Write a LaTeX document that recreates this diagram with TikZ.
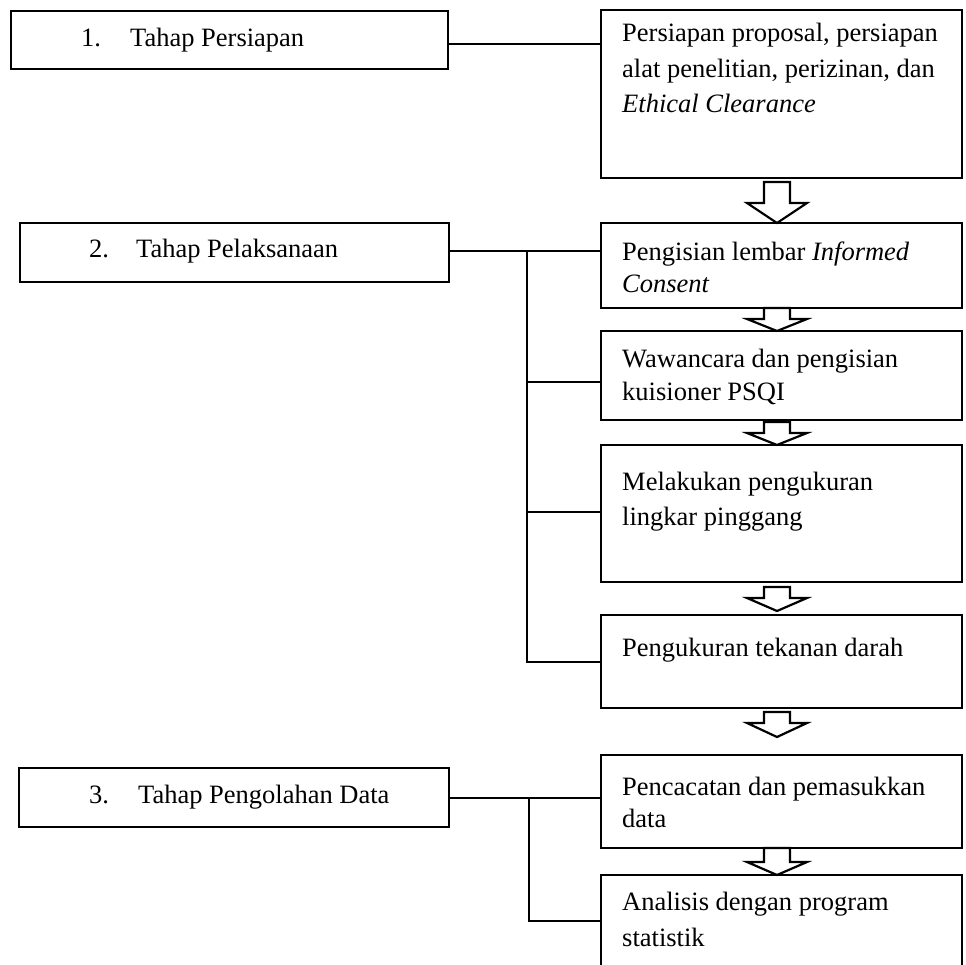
\documentclass[tikz,border=0pt]{standalone}
\usepackage{fontspec}
\setmainfont{Liberation Serif}
\usetikzlibrary{calc}
\newcommand\blockarrow[5]{% from, to, shaft top offset, head start offset, tip offset from to.north
  \draw[barrow] ($(#1.south)+(-17.5,#3)$) -- ($(#1.south)+(-17.5,#4)$)
    -- ($(#1.south)+(-34.5,#4)$) -- ($(#2.north)+(-4.5,#5)$)
    -- ($(#1.south)+(25.5,#4)$) -- ($(#1.south)+(8.5,#4)$)
    -- ($(#1.south)+(8.5,#3)$) -- cycle;}
\begin{document}
\begin{tikzpicture}[x=1pt,y=-1pt,
  box/.style 2 args={draw, line width=2.2pt, minimum width=#1, minimum height=#2, inner sep=0pt, outer sep=0pt},
  conn/.style={draw, line width=2pt},
  barrow/.style={draw, fill=white, line width=2.2pt, line join=miter},
  ltext/.style={anchor=base west, inner sep=0pt, font=\fontsize{26.5pt}{35pt}\selectfont},
  rtext/.style={anchor=base west, inner sep=0pt, font=\fontsize{26.5pt}{35pt}\selectfont}]
\useasboundingbox (0,0) rectangle (966,965);
\fill[white] (0,0) rectangle (966,965);

% left stage boxes
\node[box={437pt}{58pt}] (b1) at (229.5,40) {};
\node[box={429pt}{59pt}] (b2) at (234.5,252.5) {};
\node[box={430pt}{59pt}] (b3) at (234,797.5) {};

% right step boxes
\node[box={361pt}{168pt}] (r1) at (781.5,94) {};
\node[box={361pt}{85pt}] (r2) at (781.5,265.5) {};
\node[box={361pt}{89pt}] (r3) at (781.5,375.5) {};
\node[box={361pt}{137pt}] (r4) at (781.5,513.5) {};
\node[box={361pt}{93pt}] (r5) at (781.5,661.5) {};
\node[box={361pt}{93pt}] (r6) at (781.5,801.5) {};
\node[box={361pt}{125pt}] (r7) at (781.5,937.5) {};

% texts
\node[ltext] (l1) at (81,47) {\makebox[49pt][l]{1.}Tahap Persiapan};
\node[ltext] (l2) at (89,258) {\makebox[47pt][l]{2.}Tahap Pelaksanaan};
\node[ltext] (l3) at (89,803) {\makebox[49pt][l]{3.}Tahap Pengolahan Data};

\node[rtext] (x1) at (622,42) {\parbox[t]{340pt}{\baselineskip=35.5pt Persiapan proposal, persiapan\\alat penelitian, perizinan, dan\\\textit{Ethical Clearance}}};
\node[rtext] (x2) at (622,261) {\parbox[t]{340pt}{\baselineskip=32pt Pengisian lembar \textit{Informed}\\\textit{Consent}}};
\node[rtext] (x3) at (622,367) {\parbox[t]{340pt}{\baselineskip=33pt Wawancara dan pengisian\\kuisioner PSQI}};
\node[rtext] (x4) at (622,490) {\parbox[t]{340pt}{\baselineskip=35pt Melakukan pengukuran\\lingkar pinggang}};
\node[rtext] (x5) at (622,656) {Pengukuran tekanan darah};
\node[rtext] (x6) at (622,795) {\parbox[t]{340pt}{\baselineskip=32pt Pencacatan dan pemasukkan\\data}};
\node[rtext] (x7) at (622,910) {\parbox[t]{340pt}{\baselineskip=36pt Analisis dengan program\\statistik}};

% connectors stage 1
\draw[conn] ([yshift=-4pt]b1.east) -- ([yshift=-4pt]b1.east -| r1.west);

% connectors stage 2
\coordinate (j2) at (527,0);
\draw[conn] ([yshift=1.5pt]b2.east) -- ([yshift=1.5pt]b2.east -| r2.west);
\draw[conn] ([yshift=1.5pt]b2.east -| j2) -- (j2 |- r5.west) -- (r5.west);
\draw[conn] ([yshift=-6pt]r3.west -| j2) -- ([yshift=-6pt]r3.west);
\draw[conn] ([yshift=2pt]r4.west -| j2) -- ([yshift=2pt]r4.west);

% connectors stage 3
\coordinate (j3) at (529,0);
\coordinate (e7) at ([yshift=16.5pt]r7.west);
\draw[conn] (b3.east) -- (b3.east -| r6.west);
\draw[conn] (b3.east -| j3) -- (j3 |- e7) -- (e7);

% block arrows
\blockarrow{r1}{r2}{4}{25}{0}
\blockarrow{r2}{r3}{0}{11}{0}
\blockarrow{r3}{r4}{2}{13}{0}
\blockarrow{r4}{r5}{5}{16}{-4}
\blockarrow{r5}{r6}{4}{15}{-18}
\blockarrow{r6}{r7}{0}{14}{0}
\end{tikzpicture}
\end{document}
